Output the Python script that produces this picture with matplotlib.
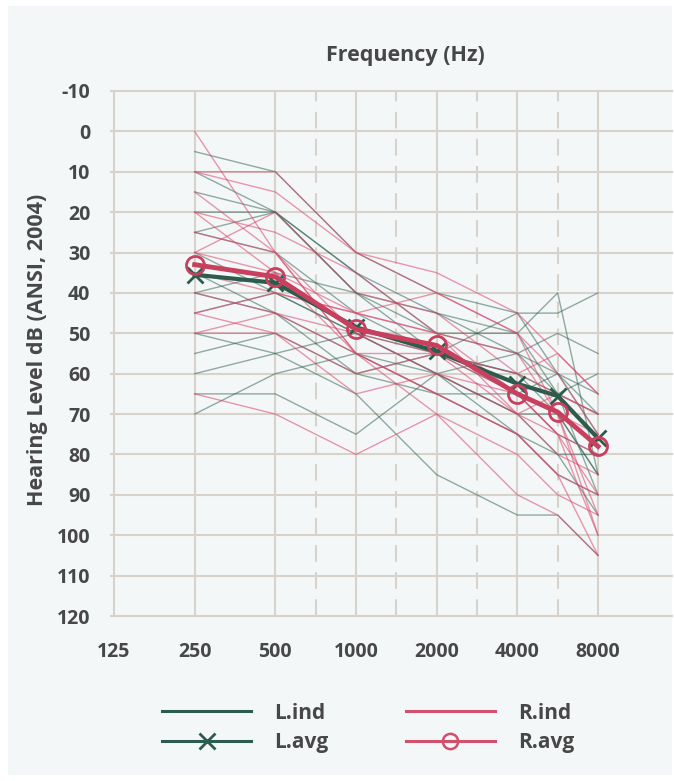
import matplotlib
matplotlib.use("Agg")
import matplotlib.pyplot as plt
from matplotlib.lines import Line2D
from matplotlib.patches import Rectangle

# ---------------- data ----------------
tick_freqs = [125, 250, 500, 1000, 2000, 4000, 8000]
tick_labels = ["125", "250", "500", "1000", "2000", "4000", "8000"]
mid_freqs = [750, 1500, 3000, 6000]
test_freqs = [250, 500, 1000, 2000, 4000, 6000, 8000]
y_ticks = list(range(-10, 121, 10))

L_ind = [
    [5, 10, 30, 40, 45, 45, 40],
    [15, 20, 35, 50, 50, 40, 85],
    [20, 20, 40, 45, 55, 50, 55],
    [25, 30, 45, 55, 60, 65, 70],
    [40, 35, 40, 55, 45, 60, 65],
    [60, 55, 50, 55, 65, 75, 80],
    [70, 60, 55, 60, 70, 70, 85],
    [65, 65, 75, 60, 55, 65, 90],
    [50, 55, 65, 85, 95, 95, 105],
    [45, 40, 50, 60, 75, 85, 90],
    [35, 45, 55, 65, 65, 60, 70],
    [10, 20, 40, 50, 55, 60, 75],
    [30, 40, 50, 60, 70, 80, 95],
    [55, 50, 60, 65, 75, 80, 80],
    [25, 20, 35, 45, 50, 65, 60],
    [40, 45, 60, 55, 60, 70, 85],
]
R_ind = [
    [0, 30, 55, 55, 65, 75, 90],
    [10, 10, 30, 35, 45, 55, 65],
    [10, 15, 30, 40, 50, 70, 100],
    [20, 35, 45, 50, 55, 70, 95],
    [30, 20, 40, 45, 60, 55, 65],
    [40, 45, 50, 60, 70, 80, 85],
    [45, 40, 45, 50, 65, 70, 75],
    [50, 45, 55, 65, 75, 85, 90],
    [50, 50, 60, 55, 70, 65, 70],
    [65, 70, 80, 70, 90, 95, 105],
    [25, 30, 50, 55, 60, 65, 70],
    [35, 40, 45, 40, 50, 60, 75],
    [20, 25, 35, 50, 70, 75, 100],
    [15, 30, 55, 65, 75, 85, 105],
    [30, 35, 55, 70, 80, 90, 95],
    [45, 50, 65, 60, 65, 75, 80],
]
L_avg = [35.5, 37.5, 48.5, 54.5, 62.5, 65.5, 76]
R_avg = [33, 36, 49, 53, 65, 69.5, 78]

# ---------------- style ----------------
TXT = "#474747"
GRID = "#d8d2cd"
L_COL = "#2b5c4c"
R_COL = "#c9405f"
FONT = ["Open Sans", "DejaVu Sans"]
plt.rcParams["font.family"] = FONT

octave = {125: 0, 250: 1, 500: 2, 1000: 3, 2000: 4, 4000: 5, 8000: 6,
          750: 2.5, 1500: 3.5, 3000: 4.5, 6000: 5.5}

def pos(freqs):
    return [octave[f] for f in freqs]

W, H = 674, 781
fig = plt.figure(figsize=(W / 100, H / 100), dpi=100)
fig.patch.set_facecolor("white")
fig.patches.append(Rectangle((8 / W, 6 / H), 664 / W, 769 / H, transform=fig.transFigure,
                             facecolor="#f4f7f7", edgecolor="none", zorder=-10))

ax = fig.add_axes([114 / W, (H - 616) / H, 558 / W, (616 - 91) / H])
ax.set_facecolor("none")
ax.set_xlim(0, 558 / 80.67)
ax.set_ylim(120, -10)
for s in ax.spines.values():
    s.set_visible(False)

# grid
for y in y_ticks:
    ax.axhline(y, color=GRID, lw=1.5, zorder=0, clip_on=False)
for f in tick_freqs:
    ax.axvline(octave[f], color=GRID, lw=1.5, zorder=0, clip_on=False)
for f in mid_freqs:
    ax.axvline(octave[f], color=GRID, lw=1.5, ls=(0, (8, 5)), zorder=0, clip_on=False)

xs = pos(test_freqs)
for row in L_ind:
    ax.plot(xs, row, color=L_COL, lw=1.0, alpha=0.5, zorder=2)
for row in R_ind:
    ax.plot(xs, row, color="#d9466c", lw=1.0, alpha=0.55, zorder=2)

ax.plot(xs, L_avg, color=L_COL, lw=3, marker="x", ms=12, mew=2, zorder=5)
ax.plot(xs, R_avg, color=R_COL, lw=3.5, marker="o", ms=13, mfc="none", mew=2, zorder=6)

ax.set_xticks(pos(tick_freqs))
ax.set_xticklabels(tick_labels)
ax.set_yticks(y_ticks)
ax.set_yticklabels([str(v) for v in y_ticks])
ax.tick_params(axis="x", length=0, pad=19, labelsize=14, labelcolor=TXT)
ax.tick_params(axis="y", length=3, width=1.5, color=GRID, pad=14, labelsize=14, labelcolor=TXT)
for lab in ax.get_xticklabels() + ax.get_yticklabels():
    lab.set_fontweight("bold")

fig.text(405 / W, 1 - 55 / H, "Frequency (Hz)", ha="center", va="center",
         fontsize=15.5, fontweight="bold", color=TXT)
fig.text(38 / W, 1 - 350 / H, "Hearing Level dB (ANSI, 2004)", ha="center", va="center",
         rotation=90, fontsize=15.5, fontweight="bold", color=TXT)

handles = [
    Line2D([], [], color=L_COL, lw=2.2),
    Line2D([], [], color=L_COL, lw=2.2, marker="x", ms=11, mew=2),
    Line2D([], [], color="#d0506e", lw=2.2),
    Line2D([], [], color="#d0506e", lw=2.2, marker="o", ms=11, mfc="none", mew=1.8),
]
labels = ["L.ind", "L.avg", "R.ind", "R.avg"]
leg = fig.legend(handles, labels, ncol=2, loc="center", bbox_to_anchor=(368 / W, 1 - 728 / H),
                 frameon=False, handlelength=4.3, handletextpad=1.1, columnspacing=3.7,
                 labelspacing=0.42, prop={"size": 15, "weight": "bold", "family": FONT})
for t in leg.get_texts():
    t.set_color(TXT)

fig.savefig("out.png", dpi=100, facecolor="white")
